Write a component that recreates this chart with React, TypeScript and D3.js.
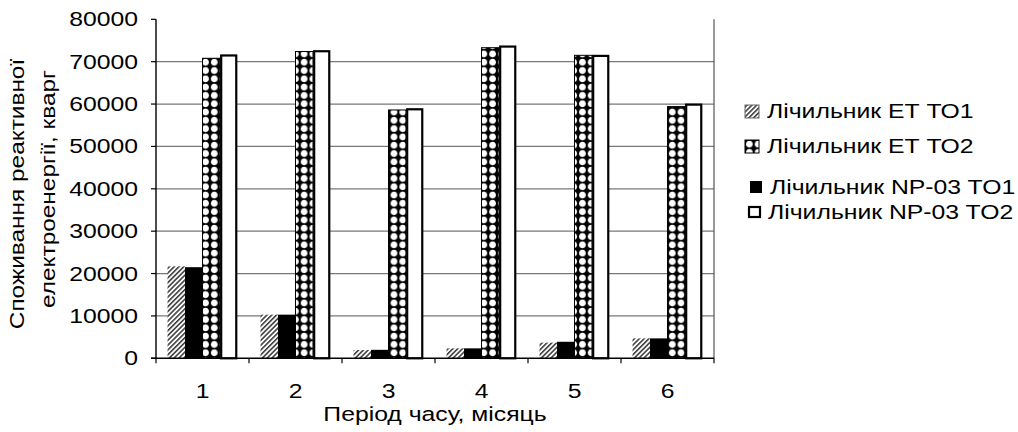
import React from "react";
import * as d3 from "d3";

const categories = ["1", "2", "3", "4", "5", "6"];
const seriesKeys = ["etTO1", "npTO1", "etTO2", "npTO2"];
const seriesNames = {
  etTO1: "Лічильник ЕТ ТО1",
  etTO2: "Лічильник ЕТ ТО2",
  npTO1: "Лічильник NP-03 TO1",
  npTO2: "Лічильник NP-03 TO2",
};
const etTO1 = [21700, 10300, 1950, 2350, 3700, 4700];
const npTO1 = [21500, 10300, 2000, 2350, 3900, 4700];
const etTO2 = [70800, 72400, 58600, 73300, 71500, 59400];
const npTO2 = [71700, 72700, 59000, 73800, 71600, 60100];
const yTitleLines = ["Споживання реактивної", "електроенергії, кварг"];
const xTitle = "Період часу, місяць";

const W = 1018;
const H = 432;
const FONT = "'Liberation Sans', Arial, sans-serif";
const SX = 1.27;

export default function App() {
  const values = { etTO1, npTO1, etTO2, npTO2 };
  const left = 156;
  const right = 714;
  const y = d3.scaleLinear().domain([0, 80000]).range([358.3, 19.3]);
  const x0 = d3.scaleBand().domain(categories).range([left, right]).padding(0);
  const x1 = d3
    .scaleBand()
    .domain(seriesKeys)
    .range([0, x0.bandwidth()])
    .paddingInner(0)
    .paddingOuter(0.66);
  const bw = x1.bandwidth();
  const yTicks = y.ticks(8);
  const tileW = bw / 2;
  const tileH = 8.3;

  const legendRows = [
    { key: "etTO1", sx: 745, sy: 105, sw: 14, sh: 13, tx: 767, ty: 118 },
    { key: "etTO2", sx: 745, sy: 140, sw: 14, sh: 13, tx: 767, ty: 153 },
    { key: "npTO1", sx: 750, sy: 181, sw: 12, sh: 12, tx: 770, ty: 194 },
    { key: "npTO2", sx: 748, sy: 206, sw: 13, sh: 12, tx: 768, ty: 219 },
  ];

  const dotPattern = (id, px, py) => (
    <pattern
      key={id}
      id={id}
      patternUnits="userSpaceOnUse"
      x={px}
      y={py}
      width={tileW}
      height={tileH}
    >
      <rect width={tileW} height={tileH} fill="#000" />
      <path
        d={`M${tileW / 2},${tileH / 2 - 3.4} Q${tileW / 2 + 3.2},${tileH / 2 - 3.2} ${tileW / 2 + 3.4},${tileH / 2} Q${tileW / 2 + 3.2},${tileH / 2 + 3.2} ${tileW / 2},${tileH / 2 + 3.4} Q${tileW / 2 - 3.2},${tileH / 2 + 3.2} ${tileW / 2 - 3.4},${tileH / 2} Q${tileW / 2 - 3.2},${tileH / 2 - 3.2} ${tileW / 2},${tileH / 2 - 3.4}Z`}
        fill="#fff"
      />
    </pattern>
  );

  const fillFor = (key, i) => {
    if (key === "etTO1") return "url(#hatch)";
    if (key === "npTO1") return "#000";
    if (key === "etTO2") return `url(#dots${i})`;
    return "#fff";
  };

  return (
    <svg width={W} height={H} style={{ display: "block", position: "absolute", left: 0, top: 0 }}>
      <defs>
        <pattern
          id="hatch"
          patternUnits="userSpaceOnUse"
          width={3.4}
          height={3.4}
          patternTransform="rotate(45)"
        >
          <rect width={3.4} height={3.4} fill="#fff" />
          <line x1={0.8} y1={0} x2={0.8} y2={3.4} stroke="#333" strokeWidth={1.5} />
        </pattern>
        {categories.map((c, i) =>
          dotPattern(`dots${i}`, (x0(c) || 0) + (x1("etTO2") || 0), 0)
        )}
        {dotPattern("dotsLegend", 745, 140)}
      </defs>
      <rect width={W} height={H} fill="#fff" />

      {yTicks
        .filter((t) => t > 0 && t < 80000)
        .map((t) => (
          <line key={t} x1={left} x2={right} y1={y(t)} y2={y(t)} stroke="#777" strokeWidth={1.2} />
        ))}

      {categories.map((c, i) => (
        <g key={c} transform={`translate(${x0(c)},0)`}>
          {seriesKeys.map((k) => {
            const v = values[k][i];
            const bx = x1(k) || 0;
            const top = y(v);
            const h = y(0) - top;
            if (k === "npTO2") {
              return (
                <rect key={k} x={bx + 1.2} y={top + 1} width={bw - 2.4} height={h - 1} fill="#fff" stroke="#000" strokeWidth={2.2} />
              );
            }
            if (k === "etTO2") {
              return (
                <rect key={k} x={bx} y={top} width={bw} height={h} fill={fillFor(k, i)} stroke="#000" strokeWidth={1} />
              );
            }
            return <rect key={k} x={bx} y={top} width={bw} height={h} fill={fillFor(k, i)} />;
          })}
        </g>
      ))}

      <line x1={left} x2={left} y1={y(80000)} y2={y(0)} stroke="#000" strokeWidth={1.4} />
      <line x1={right} x2={right} y1={y(80000)} y2={y(0)} stroke="#555" strokeWidth={1.2} />
      <line x1={left - 5} x2={right} y1={y(0)} y2={y(0)} stroke="#000" strokeWidth={1.4} />
      {yTicks.map((t) => (
        <g key={t}>
          <line x1={left - 5} x2={left} y1={y(t)} y2={y(t)} stroke="#000" strokeWidth={1.2} />
          <text
            transform={`translate(138,${y(t) + 7}) scale(${SX},1)`}
            textAnchor="end"
            fontFamily={FONT}
            fontSize={19.5}
            fill="#000"
          >
            {t}
          </text>
        </g>
      ))}
      {categories.map((c) => (
        <line key={c} x1={x0(c)} x2={x0(c)} y1={y(0)} y2={y(0) + 5} stroke="#000" strokeWidth={1.2} />
      ))}
      <line x1={right} x2={right} y1={y(0)} y2={y(0) + 5} stroke="#000" strokeWidth={1.2} />
      {categories.map((c) => (
        <text
          key={c}
          transform={`translate(${(x0(c) || 0) + x0.bandwidth() / 2},398) scale(${SX},1)`}
          textAnchor="middle"
          fontFamily={FONT}
          fontSize={19.5}
          fill="#000"
        >
          {c}
        </text>
      ))}
      <text
        transform={`translate(${(left + right) / 2},421) scale(${SX},1)`}
        textAnchor="middle"
        fontFamily={FONT}
        fontSize={19.5}
        fill="#000"
      >
        {xTitle}
      </text>
      {yTitleLines.map((l, i) => (
        <text
          key={i}
          transform={`translate(${i === 0 ? 24 : 55},${i === 0 ? 194 : 189}) rotate(-90) scale(1.22,1)`}
          textAnchor="middle"
          fontFamily={FONT}
          fontSize={20}
          fill="#000"
        >
          {l}
        </text>
      ))}

      {legendRows.map((r) => {
        let sym;
        if (r.key === "etTO1")
          sym = <rect x={r.sx} y={r.sy} width={r.sw} height={r.sh} fill="url(#hatch)" stroke="#666" strokeWidth={1} />;
        else if (r.key === "etTO2")
          sym = <rect x={r.sx} y={r.sy} width={r.sw} height={r.sh} fill="url(#dotsLegend)" stroke="#000" strokeWidth={1} />;
        else if (r.key === "npTO1")
          sym = <rect x={r.sx} y={r.sy} width={r.sw} height={r.sh} fill="#000" />;
        else
          sym = <rect x={r.sx + 1} y={r.sy + 1} width={r.sw - 2} height={r.sh - 2} fill="#fff" stroke="#000" strokeWidth={2.2} />;
        return (
          <g key={r.key}>
            {sym}
            <text
              transform={`translate(${r.tx},${r.ty}) scale(${SX},1)`}
              fontFamily={FONT}
              fontSize={19.5}
              fill="#000"
            >
              {seriesNames[r.key]}
            </text>
          </g>
        );
      })}
    </svg>
  );
}
